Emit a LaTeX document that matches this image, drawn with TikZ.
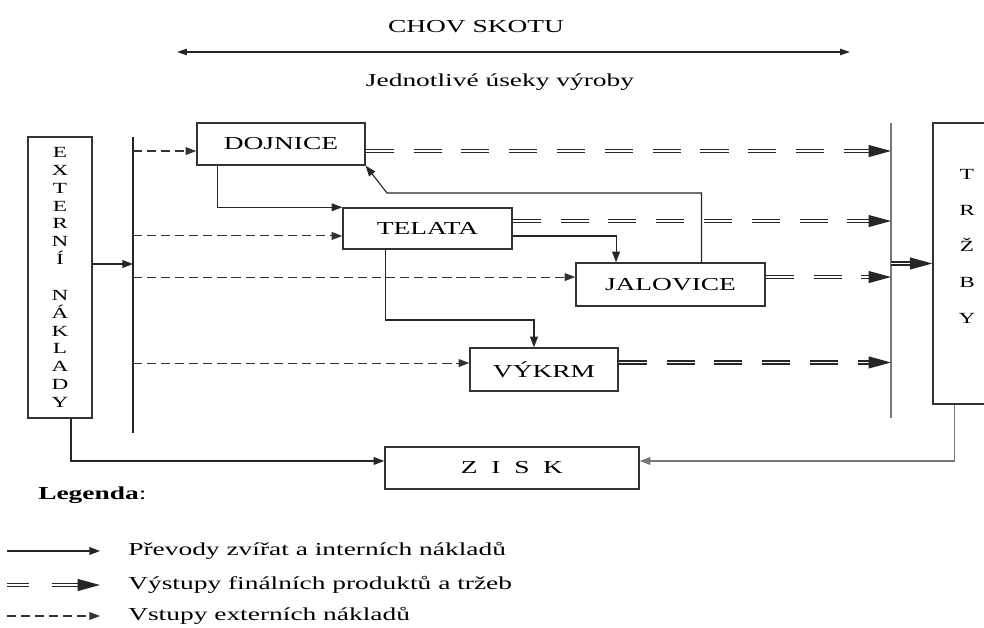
\documentclass[tikz,border=0pt]{standalone}
\usepackage{fontspec}
\setmainfont{Liberation Serif}[FakeStretch=1.5]
\usetikzlibrary{arrows.meta, positioning}
\definecolor{linegray}{RGB}{120, 120, 120}

\begin{document}
\begin{tikzpicture}[
    x=0.025cm, y=-0.025cm,
    font=\fontsize{13}{15}\selectfont,
    box/.style={draw=black!80, line width=1pt, inner sep=0pt, fill=white},
    trans/.style={draw=black!85, line width=0.8pt, -{Triangle[length=7.5pt, width=5.5pt]}},
    dashin/.style={draw=black!80, line width=0.75pt, dash pattern=on 6.5pt off 3.5pt, -{Triangle[length=7.5pt, width=5.5pt]}},
    dbl/.style={draw=black!85, line width=0.9pt, double=white, double distance=1.3pt},
    dbltip/.style={dbl, -{Triangle[length=16pt, width=8.5pt]}},
    dblout/.style={dbltip, dash pattern=on 20pt off 14pt}
]
    \useasboundingbox (0,0) rectangle (984,628);
    \clip (0,0) rectangle (984,628);

    % Header
    \node[inner sep=0pt] (chov) at (476,27) {CHOV SKOTU};
    \coordinate (spanL) at (177,52);
    \coordinate (spanR) at (850,52);
    \draw[draw=black!85, line width=0.8pt, {Triangle[length=7pt, width=4.5pt]}-{Triangle[length=7pt, width=4.5pt]}] (spanL) -- (spanR);
    \node[inner sep=0pt] (useky) at (500,82) {Jednotlivé úseky výroby};

    % Boxes
    \node[box, minimum width=1.6cm, minimum height=7.025cm, align=center,
          font=\fontsize{11}{12.7}\selectfont] (ext) at (60,277.5)
          {E\\X\\T\\E\\R\\N\\Í\\~\\N\\Á\\K\\L\\A\\D\\Y};
    \node[box, minimum width=4.2cm, minimum height=1.05cm] (dojnice) at (281,144) {DOJNICE};
    \node[box, minimum width=4.225cm, minimum height=1.025cm] (telata) at (427.5,228.5) {TELATA};
    \node[box, minimum width=4.725cm, minimum height=1.075cm] (jalovice) at (670.5,284.5) {JALOVICE};
    \node[box, minimum width=3.7cm, minimum height=1.075cm] (vykrm) at (544,369.5) {VÝKRM};
    \node[box, minimum width=2cm, minimum height=7.025cm] (trzby) at (973,263.5) {};
    \node[align=center, inner sep=0pt, font=\fontsize{11}{25.7}\selectfont] (trzbytxt) at (967,246.5) {T\\R\\Ž\\B\\Y};
    \node[box, minimum width=6.35cm, minimum height=1.05cm] (zisk) at (512,468) {Z~~I~~S~~K};

    % Buses
    \coordinate (busL) at (133,137);
    \coordinate (busLend) at (133,433);
    \coordinate (busR) at (891,123);
    \coordinate (busRend) at (891,418);
    \draw[draw=black!85, line width=0.9pt] (busL) -- (busLend);
    \draw[draw=linegray, line width=1.6pt] (busR) -- (busRend);

    % External inputs
    \draw[trans] ([yshift=9.6pt]ext.east) -- ([yshift=9.6pt]ext.east -| busL);
    \foreach \n/\s in {dojnice/-5pt, telata/-5.3pt, jalovice/5.3pt, vykrm/4.6pt} {
        \draw[dashin] ([yshift=\s]\n.west -| busL) -- ([yshift=\s]\n.west);
    }

    % Outputs
    \foreach \n/\s in {dojnice/-5pt, telata/5.3pt, jalovice/5.3pt, vykrm/5pt} {
        \draw[dblout] ([yshift=\s]\n.east) -- ([yshift=\s]\n.east -| busR);
    }
    \draw[dbltip] (trzby.west -| busR) -- (trzby.west);

    % Transfers
    \coordinate (ret) at (387,193);
    \coordinate (vk) at (534,320);
    \draw[trans] ([xshift=15pt]dojnice.south west) |- (telata.north west);
    \draw[trans] ([xshift=22pt]jalovice.north) |- (ret) -- (dojnice.south east);
    \draw[trans] ([yshift=-5.3pt]telata.east) -| ([xshift=29pt]jalovice.north west);
    \draw[trans] ([xshift=30.5pt]telata.south west) |- (vk) -- (vk |- vykrm.north);
    \draw[trans] ([xshift=7.8pt]ext.south) |- ([yshift=5pt]zisk.west);
    \draw[trans, draw=linegray] ([xshift=15.6pt]trzby.south west) |- ([yshift=5pt]zisk.east);

    % Legend
    \node[anchor=west, inner sep=0pt] (legenda) at (38,495) {\textbf{Legenda}:};
    \coordinate (lg1) at (7,551);
    \coordinate (lg1e) at (100,551);
    \coordinate (lg2) at (7,585);
    \coordinate (lg2m) at (29,585);
    \coordinate (lg2n) at (52,585);
    \coordinate (lg2e) at (100,585);
    \coordinate (lg3) at (7,616);
    \coordinate (lg3e) at (100,616);
    \draw[trans] (lg1) -- (lg1e);
    \draw[dbl] (lg2) -- (lg2m);
    \draw[dbltip] (lg2n) -- (lg2e);
    \draw[dashin] (lg3) -- (lg3e);
    \node[anchor=west, inner sep=0pt] (lt1) at (128,551) {Převody zvířat a interních nákladů};
    \node[anchor=west, inner sep=0pt] (lt2) at (128,585) {Výstupy finálních produktů a tržeb};
    \node[anchor=west, inner sep=0pt] (lt3) at (128,616) {Vstupy externích nákladů};
\end{tikzpicture}
\end{document}
